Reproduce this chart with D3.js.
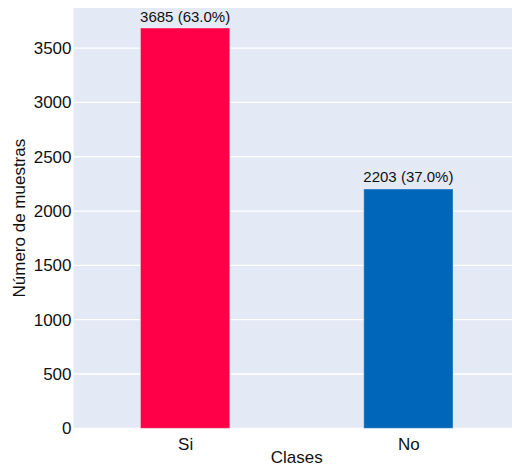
<!DOCTYPE html>
<html>
<head>
<meta charset="utf-8">
<script src="https://cdn.jsdelivr.net/npm/d3@7"></script>
<style>
  html, body { margin: 0; padding: 0; background: #ffffff; overflow: hidden; }
  svg { display: block; font-family: "Liberation Sans", Arial, Helvetica, sans-serif; }
</style>
</head>
<body>
<svg id="chart" width="512" height="467"></svg>
<script>
// Class counts and their shares of the total
const categories = ["Si", "No"];
const counts = [3685, 2203];
const shares = [63.0, 37.0];
const barColors = ["#ff0048", "#0066b9"];
const yTicks = [0, 500, 1000, 1500, 2000, 2500, 3000, 3500];

const margin = { left: 73.5, top: 8, right: 520, bottom: 428.3 };

const svg = d3.select("#chart");

// Categorical positions 0..n-1 with half a step of padding on each side
const x = d3.scaleLinear()
  .domain([-0.5, categories.length - 0.5])
  .range([margin.left, margin.right]);
const step = x(1) - x(0);
const barWidth = step * 0.4;

const y = d3.scaleLinear()
  .domain([0, d3.max(counts) * 1.05])
  .range([margin.bottom, margin.top]);

// Plot background
svg.append("rect")
  .attr("x", margin.left)
  .attr("y", margin.top)
  .attr("width", margin.right - margin.left)
  .attr("height", margin.bottom - margin.top)
  .attr("fill", "#e3e9f5");

// Horizontal grid lines
svg.append("g")
  .selectAll("line")
  .data(yTicks)
  .join("line")
  .attr("x1", margin.left)
  .attr("x2", margin.right)
  .attr("y1", d => y(d))
  .attr("y2", d => y(d))
  .attr("stroke", "#ffffff")
  .attr("stroke-width", 1.3);

// Y axis tick labels
const yAxis = d3.axisLeft(y)
  .tickValues(yTicks)
  .tickFormat(d3.format("d"))
  .tickSize(0)
  .tickPadding(2);
const gy = svg.append("g")
  .attr("transform", `translate(${margin.left},0)`)
  .call(yAxis);
gy.select(".domain").remove();
gy.selectAll("text")
  .attr("font-size", 17)
  .attr("fill", "#111111")
  .attr("font-family", "Liberation Sans, Arial, sans-serif");

// X axis tick labels
const xAxis = d3.axisBottom(x)
  .tickValues(d3.range(categories.length))
  .tickFormat(i => categories[i])
  .tickSize(0)
  .tickPadding(10);
const gx = svg.append("g")
  .attr("transform", `translate(0,${margin.bottom})`)
  .call(xAxis);
gx.select(".domain").remove();
gx.selectAll("text")
  .attr("font-size", 17)
  .attr("fill", "#111111")
  .attr("font-family", "Liberation Sans, Arial, sans-serif");

// Bars
svg.append("g")
  .selectAll("rect")
  .data(counts)
  .join("rect")
  .attr("x", (d, i) => x(i) - barWidth / 2)
  .attr("y", d => y(d))
  .attr("width", barWidth)
  .attr("height", d => y(0) - y(d))
  .attr("fill", (d, i) => barColors[i])
  .attr("stroke", "#ffffff")
  .attr("stroke-opacity", 0.35)
  .attr("stroke-width", 1);

// Value labels above bars
svg.append("g")
  .selectAll("text")
  .data(counts)
  .join("text")
  .attr("x", (d, i) => x(i))
  .attr("y", d => y(d) - 6.5)
  .attr("text-anchor", "middle")
  .attr("font-size", 15)
  .attr("fill", "#111111")
  .text((d, i) => `${d} (${shares[i].toFixed(1)}%)`);

// Axis titles
svg.append("text")
  .attr("x", (margin.left + margin.right) / 2)
  .attr("y", 463)
  .attr("text-anchor", "middle")
  .attr("font-size", 17)
  .attr("fill", "#111111")
  .text("Clases");

svg.append("text")
  .attr("transform", `translate(25,${(margin.top + margin.bottom) / 2}) rotate(-90)`)
  .attr("text-anchor", "middle")
  .attr("font-size", 17)
  .attr("fill", "#111111")
  .text("Número de muestras");
</script>
</body>
</html>
